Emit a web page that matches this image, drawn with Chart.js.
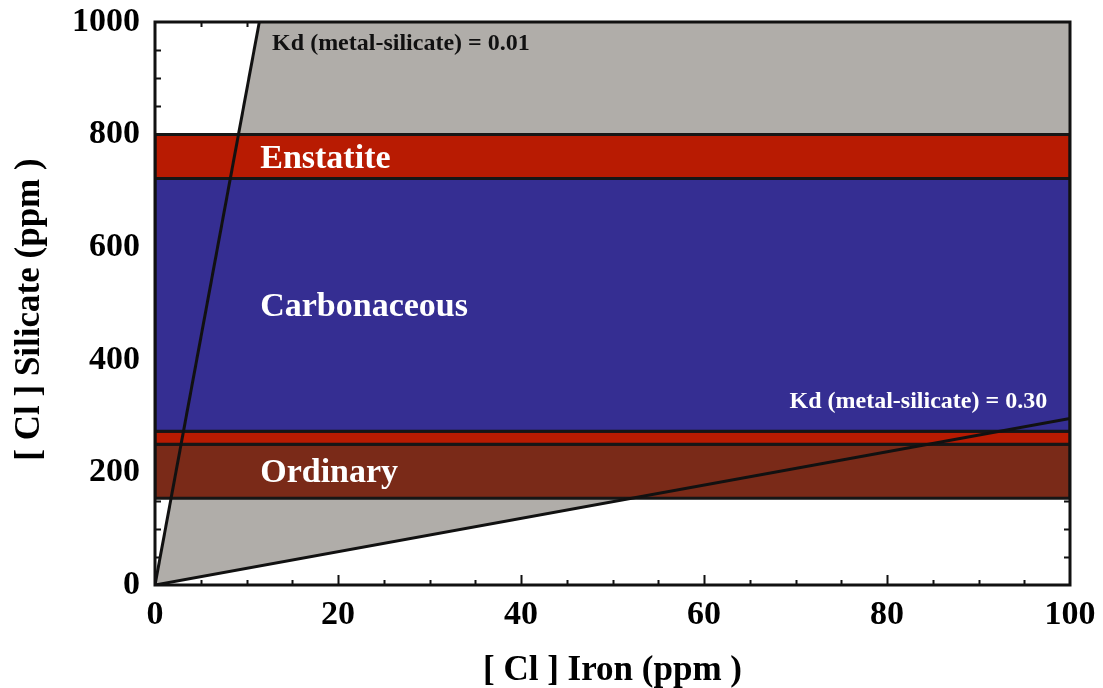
<!DOCTYPE html>
<html>
<head>
<meta charset="utf-8">
<script src="https://cdn.jsdelivr.net/npm/chart.js@4.4.0/dist/chart.umd.min.js"></script>
<style>
  html, body { margin: 0; padding: 0; background: #ffffff; }
  canvas { display: block; }
</style>
</head>
<body>
<canvas id="chart" width="1103" height="688"></canvas>
<script>
// Chlorine concentration bands for chondrite groups (silicate, ppm)
const bandNames  = ['Enstatite', 'Carbonaceous', '', 'Ordinary'];
const bandLower  = [722, 273, 250, 154];
const bandUpper  = [800, 722, 273, 250];

// Partitioning lines through the origin: end points (iron ppm, silicate ppm)
const kdNames       = ['Kd (metal-silicate) = 0.01', 'Kd (metal-silicate) = 0.30'];
const kdIronEnd     = [11.4, 100];
const kdSilicateEnd = [1000, 296];

// Axis tick labels
const ironTicks     = [0, 20, 40, 60, 80, 100];
const silicateTicks = [0, 200, 400, 600, 800, 1000];

const SERIF = '"Liberation Serif", "Times New Roman", Times, serif';
const bandFill = ['#b81b02', '#352e92', '#b81b02', '#7a2a18'];
const wedgeFill = '#b0ada9';
const ink = '#111111';

const xMin = ironTicks[0], xMax = ironTicks[ironTicks.length - 1];
const yMin = silicateTicks[0], yMax = silicateTicks[silicateTicks.length - 1];

// Shaded region between the two Kd lines
const wedge = [
  { x: 0, y: 0 },
  { x: kdIronEnd[0], y: kdSilicateEnd[0] },
  { x: xMax, y: yMax },
  { x: kdIronEnd[1], y: kdSilicateEnd[1] },
  { x: 0, y: 0 }
];

const datasets = [];

kdNames.forEach((name, i) => {
  datasets.push({
    label: name,
    data: [{ x: 0, y: 0 }, { x: kdIronEnd[i], y: kdSilicateEnd[i] }],
    showLine: true,
    borderColor: ink,
    borderWidth: 3,
    pointRadius: 0,
    fill: false,
    order: 1
  });
});

bandNames.forEach((name, i) => {
  datasets.push({
    label: name || 'band',
    data: [
      { x: xMin, y: bandLower[i] },
      { x: xMax, y: bandLower[i] },
      { x: xMax, y: bandUpper[i] },
      { x: xMin, y: bandUpper[i] },
      { x: xMin, y: bandLower[i] }
    ],
    showLine: true,
    fill: 'shape',
    backgroundColor: bandFill[i],
    borderColor: '#161616',
    borderWidth: 3,
    pointRadius: 0,
    tension: 0,
    order: 2
  });
});

datasets.push({
  label: 'wedge',
  data: wedge,
  showLine: true,
  fill: 'shape',
  backgroundColor: wedgeFill,
  borderWidth: 0,
  borderColor: 'rgba(0,0,0,0)',
  pointRadius: 0,
  order: 3
});

// Inward minor/major ticks on all four sides, under the filled areas
const innerTicks = {
  id: 'innerTicks',
  beforeDatasetsDraw(chart) {
    const { ctx, chartArea: a, scales: { x, y } } = chart;
    ctx.save();
    ctx.strokeStyle = ink;
    ctx.lineWidth = 2;
    ctx.beginPath();
    for (let v = xMin + 5; v < xMax; v += 5) {
      const px = Math.round(x.getPixelForValue(v)) + 0.5;
      const len = v % 20 === 0 ? 10 : 5;
      ctx.moveTo(px, a.bottom); ctx.lineTo(px, a.bottom - len);
      ctx.moveTo(px, a.top); ctx.lineTo(px, a.top + len);
    }
    for (let v = yMin + 50; v < yMax; v += 50) {
      const py = Math.round(y.getPixelForValue(v)) + 0.5;
      const len = v % 200 === 0 ? 10 : 6;
      ctx.moveTo(a.left, py); ctx.lineTo(a.left + len, py);
      ctx.moveTo(a.right, py); ctx.lineTo(a.right - len, py);
    }
    ctx.stroke();
    ctx.restore();
  },
  afterDatasetsDraw(chart) {
    const { ctx, chartArea: a, scales: { x, y } } = chart;
    ctx.save();
    // plot frame
    ctx.strokeStyle = ink;
    ctx.lineWidth = 3;
    ctx.strokeRect(a.left, a.top, a.right - a.left, a.bottom - a.top);

    // band names, left aligned, vertically centred in their band
    ctx.fillStyle = '#ffffff';
    ctx.font = 'bold 34px ' + SERIF;
    ctx.textAlign = 'left';
    ctx.textBaseline = 'alphabetic';
    bandNames.forEach((name, i) => {
      if (!name) return;
      const mid = y.getPixelForValue((bandLower[i] + bandUpper[i]) / 2);
      ctx.fillText(name, x.getPixelForValue(11.5), mid + 11);
    });

    // Kd line labels
    ctx.font = 'bold 24px ' + SERIF;
    ctx.fillStyle = ink;
    ctx.textAlign = 'left';
    ctx.fillText(kdNames[0], x.getPixelForValue(12.8), y.getPixelForValue(950));
    ctx.fillStyle = '#ffffff';
    ctx.textAlign = 'right';
    ctx.fillText(kdNames[1], x.getPixelForValue(97.5), y.getPixelForValue(314));
    ctx.restore();
  },
  afterDraw(chart) {
    const { ctx, chartArea: a } = chart;
    ctx.save();
    ctx.fillStyle = '#000000';
    ctx.font = 'bold 35px ' + SERIF;
    ctx.textAlign = 'center';
    ctx.textBaseline = 'alphabetic';
    ctx.fillText('[ Cl ] Iron (ppm )', (a.left + a.right) / 2, 680);
    ctx.translate(39, (a.top + a.bottom) / 2 + 6);
    ctx.rotate(-Math.PI / 2);
    ctx.fillText('[ Cl ] Silicate (ppm )', 0, 0);
    ctx.restore();
  }
};

const tickFont = { family: SERIF, size: 34, weight: 'bold' };
const plainNumber = v => String(v);

new Chart(document.getElementById('chart'), {
  type: 'scatter',
  data: { datasets },
  options: {
    responsive: false,
    animation: false,
    events: [],
    layout: { padding: { top: 22, right: 33, left: 0, bottom: 0 } },
    plugins: {
      legend: { display: false },
      tooltip: { enabled: false }
    },
    scales: {
      x: {
        type: 'linear',
        min: xMin,
        max: xMax,
        afterBuildTicks(scale) { scale.ticks = ironTicks.map(v => ({ value: v })); },
        ticks: { font: tickFont, color: '#000', padding: 10, maxRotation: 0, autoSkip: false, callback: plainNumber },
        grid: { display: false, drawTicks: false },
        border: { display: false },
        afterFit(scale) {
          scale.height = 103;
          scale.paddingLeft = 0;
          scale.paddingRight = 0;
        }
      },
      y: {
        type: 'linear',
        min: yMin,
        max: yMax,
        afterBuildTicks(scale) { scale.ticks = silicateTicks.map(v => ({ value: v })); },
        ticks: { font: tickFont, color: '#000', padding: 15, autoSkip: false, callback: plainNumber },
        grid: { display: false, drawTicks: false },
        border: { display: false },
        afterFit(scale) {
          scale.width = 155;
          scale.paddingTop = 0;
          scale.paddingBottom = 0;
        }
      }
    }
  },
  plugins: [innerTicks]
});
</script>
</body>
</html>
